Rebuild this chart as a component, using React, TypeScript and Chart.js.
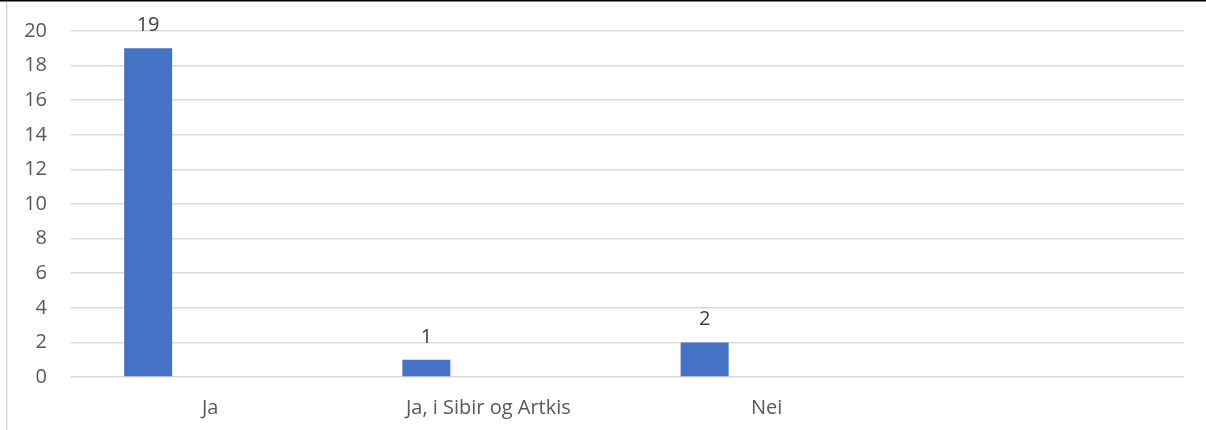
import React, { useEffect, useRef } from "react";
import { Chart, registerables } from "chart.js";

Chart.register(...registerables);

const categories: string[] = ["Ja", "Ja, i Sibir og Artkis", "Nei", ""];
const seriesValues: (number | null)[] = [19, 1, 2, null];
const emptySeries: (number | null)[] = [null, null, null, null];
const yMin = 0;
const yMax = 20;
const yStep = 2;

const FONT = "'Open Sans', 'Liberation Sans', sans-serif";
const FSIZE = 20;

const frameAndLabels = {
  id: "frameAndLabels",
  beforeDraw(chart: any) {
    const ctx = chart.ctx;
    ctx.save();
    ctx.fillStyle = "#ffffff";
    ctx.fillRect(0, 0, chart.width, chart.height);
    ctx.fillStyle = "#d9d9d9";
    ctx.fillRect(6, 2, 1.5, chart.height - 2);
    ctx.fillStyle = "#000000";
    ctx.fillRect(0, 0, chart.width, 1.5);
    ctx.restore();
  },
  afterDatasetsDraw(chart: any) {
    const ctx = chart.ctx;
    const meta = chart.getDatasetMeta(0);
    const data = chart.data.datasets[0].data;
    ctx.save();
    ctx.fillStyle = "#404040";
    ctx.font = `${FSIZE}px ${FONT}`;
    ctx.textAlign = "center";
    ctx.textBaseline = "alphabetic";
    meta.data.forEach((bar: any, i: number) => {
      const v = data[i];
      if (v === null || v === undefined) return;
      ctx.fillText(String(v), bar.x, bar.y - 17);
    });
    ctx.restore();
  },
};

export default function App() {
  const ref = useRef<HTMLCanvasElement | null>(null);

  useEffect(() => {
    document.body.style.margin = "0";
    if (!ref.current) return;
    const chart = new Chart(ref.current, {
      type: "bar",
      data: {
        labels: categories,
        datasets: [
          {
            data: seriesValues,
            backgroundColor: "#4472C4",
            borderWidth: 0,
            categoryPercentage: 0.8913,
            barPercentage: 0.387,
          },
          {
            data: emptySeries,
            backgroundColor: "#ED7D31",
            borderWidth: 0,
            categoryPercentage: 0.8913,
            barPercentage: 0.387,
          },
        ],
      },
      options: {
        responsive: false,
        animation: false,
        devicePixelRatio: 1,
        layout: { padding: { top: 31, right: 22, left: 0, bottom: 0 } },
        plugins: {
          legend: { display: false },
          tooltip: { enabled: false },
        },
        scales: {
          x: {
            grid: { display: false, drawTicks: false },
            border: { display: false },
            ticks: {
              color: "#595959",
              font: { family: FONT, size: FSIZE },
              padding: 19,
              maxRotation: 0,
              autoSkip: false,
            },
            afterFit: (s: any) => {
              s.height = 53;
            },
          },
          y: {
            min: yMin,
            max: yMax,
            grid: {
              color: "#d9d9d9",
              lineWidth: 1.5,
              drawTicks: true,
              tickLength: 20,
              tickColor: "rgba(0,0,0,0)",
            },
            border: { display: false },
            ticks: {
              stepSize: yStep,
              color: "#595959",
              font: { family: FONT, size: FSIZE },
              padding: 4,
            },
            afterFit: (s: any) => {
              s.width = 71;
            },
          },
        },
      },
      plugins: [frameAndLabels],
    });
    return () => chart.destroy();
  }, []);

  return (
    <div style={{ width: 1206, height: 430 }}>
      <canvas ref={ref} width={1206} height={430} style={{ display: "block" }} />
    </div>
  );
}
